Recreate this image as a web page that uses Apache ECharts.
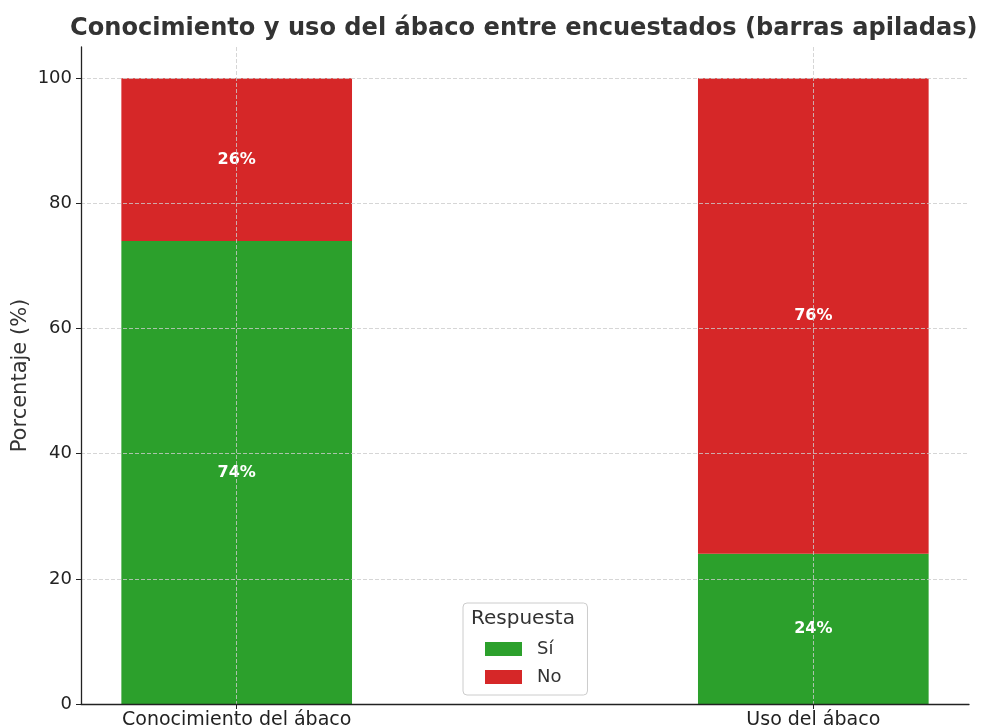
<!DOCTYPE html>
<html><head><meta charset="utf-8">
<script src="https://cdn.jsdelivr.net/npm/echarts@6/dist/echarts.min.js"></script>
<style>html,body{margin:0;padding:0;background:#fff}#c{width:981px;height:727px}</style>
</head><body><div id="c"></div>
<script>
const categories = ['Conocimiento del ábaco', 'Uso del ábaco'];
const siValues = [74, 24];
const noValues = [26, 76];
const yTicks = [0, 20, 40, 60, 80, 100];

const FONT = 'DejaVu Sans';
const chart = echarts.init(document.getElementById('c'));
const gridLeft = 81, gridRight = 12, gridTop = 47, gridBottom = 23;
const gridW = 981 - gridLeft - gridRight;
const xMin = -0.27, xMax = 1.27;
const barW = gridW * 0.4 / (xMax - xMin);

// data rows: [value, position]
function toData(vals) { return vals.map((v, i) => [v, i]); }
const labelCfg = {
  show: true, position: 'inside', color: '#fff', fontWeight: 'bold',
  fontFamily: FONT, fontSize: 16,
  formatter: p => p.value[0] + '%'
};

chart.setOption({
  animation: false,
  textStyle: { fontFamily: FONT },
  title: {
    text: 'Conocimiento y uso del ábaco entre encuestados (barras apiladas)',
    left: 70, top: 17, padding: 0,
    textStyle: { fontFamily: FONT, fontSize: 24.1, fontWeight: 'bold', color: '#333' }
  },
  grid: { left: gridLeft, right: gridRight, top: gridTop, bottom: gridBottom, outerBoundsMode: 'none', containLabel: false },
  xAxis: {
    type: 'value', min: xMin, max: xMax, z: 3,
    axisLine: { show: true, onZero: false, lineStyle: { color: '#222', width: 1.3 } },
    axisTick: { show: true, customValues: [0, 1], length: 5, lineStyle: { color: '#222' } },
    axisLabel: { customValues: [0, 1], formatter: v => categories[Math.round(v)] || '',
      fontFamily: FONT, fontSize: 19, color: '#222', margin: 7 },
    splitLine: { show: true, lineStyle: { color: '#ccc', type: [4, 2], width: 0.8 } }
  },
  yAxis: {
    type: 'value', min: 0, max: 105, z: 3,
    name: 'Porcentaje (%)', nameLocation: 'middle', nameGap: 50, nameMoveOverlap: false,
    nameTextStyle: { fontFamily: FONT, fontSize: 21, color: '#333' },
    axisLine: { show: true, onZero: false, lineStyle: { color: '#222', width: 1.3 } },
    axisTick: { show: true, customValues: yTicks, length: 5, lineStyle: { color: '#222' } },
    axisLabel: { customValues: yTicks, fontFamily: FONT, fontSize: 18, color: '#222', margin: 9 },
    splitLine: { show: true, lineStyle: { color: '#ccc', type: [4, 2], width: 0.8 } }
  },
  legend: {
    data: ['Sí', 'No'], orient: 'vertical', left: 463, top: 603,
    padding: [37, 26, 9, 22], itemGap: 10,
    itemWidth: 37, itemHeight: 14, icon: 'rect',
    borderColor: '#ccc', borderWidth: 1, borderRadius: 4, backgroundColor: '#fff',
    textStyle: { fontFamily: FONT, fontSize: 18, color: '#333', padding: [0, 0, 0, 10] }
  },
  graphic: [{
    type: 'text', left: 471, top: 609, z: 100,
    style: { text: 'Respuesta', fontFamily: FONT, fontSize: 20, fill: '#333' }
  }],
  series: [
    { name: 'Sí', type: 'bar', stack: 's', barWidth: barW, data: toData(siValues),
      dimensions: ['val', 'pos'], encode: { x: 'pos', y: 'val' },
      itemStyle: { color: '#2ca02c' }, label: labelCfg },
    { name: 'No', type: 'bar', stack: 's', barWidth: barW, data: toData(noValues),
      dimensions: ['val', 'pos'], encode: { x: 'pos', y: 'val' },
      itemStyle: { color: '#d62728' }, label: labelCfg }
  ]
});
</script></body></html>
